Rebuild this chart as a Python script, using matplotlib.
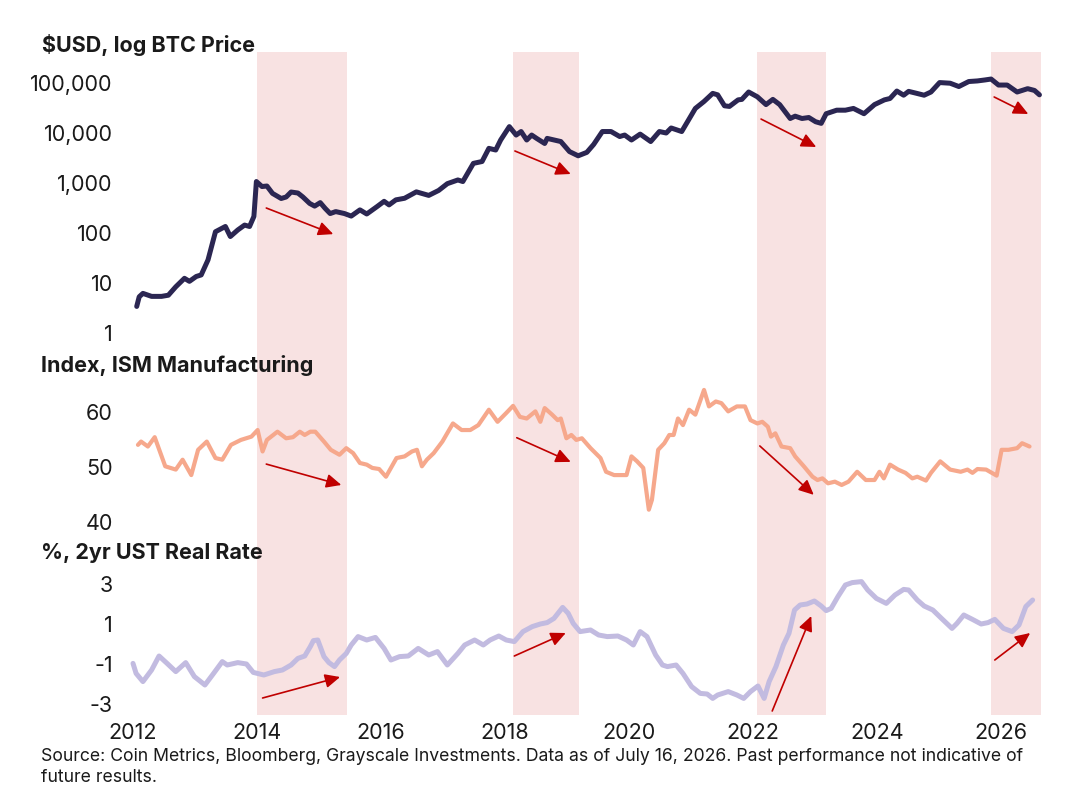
import matplotlib
matplotlib.use("Agg")
import matplotlib.pyplot as plt
from matplotlib.ticker import FixedLocator, FuncFormatter, NullLocator

plt.rcParams["font.family"] = ["Inter", "DejaVu Sans"]
plt.rcParams["axes.unicode_minus"] = False

# --- data ------------------------------------------------------------------
btc_year = [2012.06, 2012.10, 2012.16, 2012.30, 2012.46, 2012.57, 2012.69, 2012.83, 2012.91,
            2013.02, 2013.10, 2013.21, 2013.33, 2013.49, 2013.57, 2013.69, 2013.80, 2013.88,
            2013.95, 2013.99, 2014.08, 2014.16, 2014.25, 2014.39, 2014.47, 2014.55, 2014.66,
            2014.74, 2014.85, 2014.93, 2015.02, 2015.10, 2015.18, 2015.27, 2015.41, 2015.52,
            2015.66, 2015.77, 2015.94, 2016.05, 2016.13, 2016.24, 2016.38, 2016.57, 2016.77,
            2016.93, 2017.07, 2017.24, 2017.32, 2017.49, 2017.63, 2017.74, 2017.85, 2017.93,
            2018.07, 2018.18, 2018.26, 2018.35, 2018.43, 2018.51, 2018.64, 2018.68, 2018.90,
            2019.04, 2019.18, 2019.32, 2019.43, 2019.57, 2019.71, 2019.85, 2019.93, 2020.04,
            2020.18, 2020.35, 2020.49, 2020.60, 2020.68, 2020.85, 2020.96, 2021.07, 2021.21,
            2021.35, 2021.43, 2021.54, 2021.62, 2021.76, 2021.82, 2021.93, 2022.07, 2022.21,
            2022.32, 2022.43, 2022.60, 2022.68, 2022.79, 2022.90, 2023.01, 2023.10, 2023.18,
            2023.35, 2023.49, 2023.62, 2023.79, 2023.96, 2024.12, 2024.21, 2024.32, 2024.43,
            2024.51, 2024.62, 2024.76, 2024.87, 2025.01, 2025.18, 2025.32, 2025.48, 2025.62,
            2025.74, 2025.84, 2025.96, 2026.10, 2026.26, 2026.43, 2026.54, 2026.62]
btc_price = [3.4, 5.3, 6.2, 5.4, 5.4, 5.7, 8.4, 12.4, 10.8,
             13.5, 14.5, 29, 106, 135, 85, 115, 144, 135,
             214, 1070, 850, 870, 620, 490, 525, 660, 630,
             525, 390, 345, 405, 310, 245, 268, 245, 218,
             290, 240, 340, 430, 365, 460, 495, 665, 565,
             710, 970, 1150, 1070, 2470, 2690, 4930, 4570, 7240,
             13400, 9100, 10700, 7240, 9100, 7800, 6170, 7800, 6750,
             4250, 3500, 4100, 5900, 10700, 10700, 8500, 9100, 7240,
             9500, 6750, 10700, 10000, 12600, 10700, 18200, 31000, 42700,
             62000, 58000, 35000, 34000, 46000, 47000, 66000, 53000, 37000,
             47000, 37000, 19500, 21700, 19500, 20400, 16800, 15600, 24300,
             28600, 28600, 31000, 24300, 37000, 46000, 49000, 69000, 57000,
             68000, 63000, 57000, 66000, 102000, 99000, 85000, 107000, 110000,
             115000, 120000, 91000, 91000, 66000, 77000, 71000, 58000]

ism_year = [2012.08, 2012.13, 2012.24, 2012.35, 2012.52, 2012.69, 2012.80, 2012.94, 2013.05,
            2013.19, 2013.33, 2013.44, 2013.58, 2013.74, 2013.91, 2014.01, 2014.09, 2014.16,
            2014.33, 2014.47, 2014.58, 2014.69, 2014.77, 2014.86, 2014.94, 2015.08, 2015.19,
            2015.33, 2015.44, 2015.55, 2015.66, 2015.77, 2015.86, 2015.97, 2016.08, 2016.25,
            2016.38, 2016.50, 2016.58, 2016.66, 2016.74, 2016.85, 2016.99, 2017.16, 2017.30,
            2017.44, 2017.57, 2017.74, 2017.88, 2018.02, 2018.13, 2018.24, 2018.35, 2018.49,
            2018.57, 2018.64, 2018.76, 2018.85, 2018.90, 2018.99, 2019.07, 2019.15, 2019.24,
            2019.38, 2019.54, 2019.63, 2019.76, 2019.96, 2020.04, 2020.13, 2020.23, 2020.32,
            2020.37, 2020.47, 2020.57, 2020.65, 2020.72, 2020.79, 2020.87, 2020.97, 2021.07,
            2021.21, 2021.29, 2021.40, 2021.49, 2021.60, 2021.74, 2021.87, 2021.96, 2022.07,
            2022.15, 2022.24, 2022.29, 2022.36, 2022.46, 2022.60, 2022.68, 2022.82, 2022.96,
            2023.04, 2023.12, 2023.21, 2023.32, 2023.43, 2023.54, 2023.68, 2023.82, 2023.96,
            2024.04, 2024.11, 2024.21, 2024.34, 2024.46, 2024.57, 2024.65, 2024.79, 2024.87,
            2025.02, 2025.18, 2025.35, 2025.46, 2025.54, 2025.62, 2025.76, 2025.93, 2026.01,
            2026.12, 2026.26, 2026.34, 2026.46]
ism_value = [54.0, 54.6, 53.7, 55.4, 50.1, 49.5, 51.3, 48.5, 53.1,
             54.6, 51.6, 51.3, 54.0, 54.9, 55.5, 56.7, 52.8, 54.9,
             56.4, 55.2, 55.4, 56.4, 55.8, 56.4, 56.4, 54.6, 53.1,
             52.2, 53.4, 52.5, 50.7, 50.4, 49.8, 49.6, 48.2, 51.6,
             51.9, 52.8, 53.1, 50.1, 51.3, 52.5, 54.6, 57.9, 56.7,
             56.7, 57.6, 60.4, 58.2, 59.8, 61.1, 59.1, 58.8, 60.1,
             58.2, 60.7, 59.5, 58.5, 58.8, 55.2, 55.8, 54.9, 55.2,
             53.4, 51.6, 49.1, 48.5, 48.5, 51.9, 51.0, 49.8, 42.2,
             44.0, 53.1, 54.3, 55.8, 55.8, 58.8, 57.6, 60.4, 59.5,
             64.0, 61.0, 61.9, 61.6, 60.1, 61.0, 61.0, 58.5, 57.9,
             58.2, 57.3, 55.5, 56.1, 53.7, 53.4, 51.9, 50.1, 48.2,
             47.6, 47.9, 47.0, 47.3, 46.7, 47.3, 49.1, 47.6, 47.6,
             49.1, 47.9, 50.4, 49.5, 48.9, 47.9, 48.2, 47.5, 48.9,
             51.0, 49.5, 49.1, 49.5, 48.9, 49.6, 49.5, 48.4, 53.1,
             53.1, 53.4, 54.3, 53.7]

rate_year = [2012.00, 2012.05, 2012.16, 2012.30, 2012.42, 2012.55, 2012.69, 2012.85, 2012.99,
             2013.16, 2013.30, 2013.44, 2013.52, 2013.69, 2013.83, 2013.94, 2014.11, 2014.28,
             2014.41, 2014.55, 2014.66, 2014.77, 2014.86, 2014.91, 2014.98, 2015.08, 2015.16,
             2015.25, 2015.33, 2015.44, 2015.52, 2015.63, 2015.77, 2015.91, 2016.05, 2016.16,
             2016.30, 2016.44, 2016.60, 2016.77, 2016.91, 2017.07, 2017.24, 2017.35, 2017.51,
             2017.65, 2017.76, 2017.90, 2018.02, 2018.15, 2018.29, 2018.44, 2018.57, 2018.68,
             2018.79, 2018.93, 2019.02, 2019.10, 2019.21, 2019.38, 2019.51, 2019.65, 2019.82,
             2019.96, 2020.07, 2020.18, 2020.29, 2020.43, 2020.54, 2020.62, 2020.76, 2020.87,
             2021.01, 2021.15, 2021.26, 2021.35, 2021.43, 2021.60, 2021.74, 2021.85, 2021.96,
             2022.08, 2022.18, 2022.26, 2022.37, 2022.49, 2022.58, 2022.67, 2022.76, 2022.87,
             2022.99, 2023.10, 2023.18, 2023.26, 2023.37, 2023.49, 2023.60, 2023.75, 2023.85,
             2023.99, 2024.15, 2024.29, 2024.43, 2024.51, 2024.65, 2024.76, 2024.90, 2025.04,
             2025.21, 2025.29, 2025.40, 2025.54, 2025.68, 2025.79, 2025.90, 2026.04, 2026.18,
             2026.29, 2026.40, 2026.51]
rate_value = [-0.97, -1.47, -1.88, -1.30, -0.60, -0.97, -1.38, -0.93, -1.63,
              -2.05, -1.47, -0.88, -1.05, -0.93, -1.00, -1.42, -1.55, -1.38,
              -1.30, -1.05, -0.72, -0.60, -0.13, 0.17, 0.20, -0.63, -0.93,
              -1.13, -0.80, -0.47, -0.05, 0.37, 0.20, 0.33, -0.22, -0.80,
              -0.63, -0.60, -0.22, -0.55, -0.38, -1.05, -0.47, -0.05, 0.20,
              -0.05, 0.20, 0.40, 0.20, 0.12, 0.62, 0.87, 1.00, 1.07,
              1.28, 1.83, 1.53, 1.03, 0.62, 0.70, 0.45, 0.37, 0.40,
              0.20, -0.05, 0.62, 0.37, -0.55, -1.05, -1.13, -1.05, -1.47,
              -2.13, -2.47, -2.50, -2.72, -2.55, -2.38, -2.55, -2.72, -2.38,
              -2.10, -2.72, -1.88, -1.13, -0.05, 0.53, 1.70, 1.95, 2.00,
              2.15, 1.90, 1.67, 1.78, 2.37, 2.95, 3.07, 3.12, 2.70,
              2.28, 2.03, 2.45, 2.73, 2.70, 2.20, 1.90, 1.70, 1.28,
              0.78, 1.03, 1.45, 1.23, 1.00, 1.07, 1.23, 0.78, 0.62,
              0.95, 1.87, 2.20]

# drawdown periods (start, end) in years
shade_start = [2014.0, 2018.13, 2022.06, 2025.84]
shade_end = [2015.45, 2019.2, 2023.18, 2026.65]

# arrows: (x0, y0, x1, y1) tail -> head
btc_arrows = [(2014.15, 316, 2015.23, 95), (2018.16, 4365, 2019.06, 1514),
              (2022.13, 19000, 2023.02, 5250), (2025.89, 52500, 2026.44, 24000)]
ism_arrows = [(2014.15, 50.5, 2015.36, 46.7), (2018.19, 55.3, 2019.06, 50.9),
              (2022.11, 53.8, 2022.98, 44.9)]
rate_arrows = [(2014.09, -2.7, 2015.34, -1.65), (2018.15, -0.6, 2018.98, 0.55),
               (2022.31, -3.35, 2022.94, 1.4), (2025.90, -0.8, 2026.47, 0.55)]

btc_ticks = [1, 10, 100, 1000, 10000, 100000]
ism_ticks = [40, 50, 60]
rate_ticks = [-3, -1, 1, 3]
year_ticks = [2012, 2014, 2016, 2018, 2020, 2022, 2024, 2026]

# --- layout ---------------------------------------------------------------
W, H = 1069, 796
XMIN, XMAX = 2011.9, 2026.7
LEFT, WIDTH = 126.8, 917.6

BTC_C = "#2b2652"
ISM_C = "#f6a88c"
RATE_C = "#c2bbe0"
SHADE_C = "#f8e2e2"
ARROW_C = "#c00000"
TXT_C = "#1a1a1a"


def add_ax(fig, top_px, bottom_px):
    return fig.add_axes([LEFT / W, 1 - bottom_px / H, WIDTH / W, (bottom_px - top_px) / H])


def style(ax):
    for s in ax.spines.values():
        s.set_visible(False)
    ax.set_xlim(XMIN, XMAX)
    ax.patch.set_alpha(0)
    ax.tick_params(length=0, labelsize=15.5, colors=TXT_C, pad=10)


def arrows(ax, arr):
    for x0, y0, x1, y1 in arr:
        ax.annotate("", xy=(x1, y1), xytext=(x0, y0),
                    arrowprops=dict(arrowstyle="-|>,head_length=0.9,head_width=0.42",
                                    color=ARROW_C, lw=1.2, mutation_scale=10,
                                    shrinkA=0, shrinkB=0))


fig = plt.figure(figsize=(W / 100, H / 100), dpi=100)

# background axes carrying the shaded bands through all three panels
bg = add_ax(fig, 52, 715)
bg.set_xlim(XMIN, XMAX)
bg.set_ylim(0, 1)
bg.axis("off")
for s0, s1 in zip(shade_start, shade_end):
    bg.axvspan(s0, s1, color=SHADE_C, lw=0)

# BTC price
ax1 = add_ax(fig, 60, 345)
style(ax1)
ax1.set_yscale("log")
ax1.set_ylim(10 ** -0.24, 10 ** 5.46)
ax1.plot(btc_year, btc_price, color=BTC_C, lw=3.6, solid_joinstyle="round", solid_capstyle="round")
ax1.yaxis.set_major_locator(FixedLocator(btc_ticks))
ax1.yaxis.set_minor_locator(NullLocator())
ax1.yaxis.set_major_formatter(FuncFormatter(lambda v, p: f"{v:,.0f}"))
ax1.set_xticks([])
arrows(ax1, btc_arrows)

# ISM
ax2 = add_ax(fig, 385, 530)
style(ax2)
ax2.set_ylim(38.5, 64.9)
ax2.plot(ism_year, ism_value, color=ISM_C, lw=3.0, solid_joinstyle="round", solid_capstyle="round")
ax2.set_yticks(ism_ticks)
ax2.set_xticks([])
arrows(ax2, ism_arrows)

# real rate
ax3 = add_ax(fig, 575, 715)
style(ax3)
ax3.set_ylim(-3.55, 3.45)
ax3.plot(rate_year, rate_value, color=RATE_C, lw=3.6, solid_joinstyle="round", solid_capstyle="round")
ax3.set_yticks(rate_ticks)
ax3.set_xticks(year_ticks)
ax3.set_xticklabels([str(y) for y in year_ticks])
ax3.tick_params(axis="x", pad=6)
arrows(ax3, rate_arrows)

title_kw = dict(fontsize=15.5, fontweight="bold", color=TXT_C, ha="left", va="center")
fig.text(42 / W, 1 - 45 / H, "$USD, log BTC Price", **title_kw)
fig.text(41 / W, 1 - 365 / H, "Index, ISM Manufacturing", **title_kw)
fig.text(41 / W, 1 - 553 / H, "%, 2yr UST Real Rate", **title_kw)

fig.text(41 / W, 1 - 748 / H,
         "Source: Coin Metrics, Bloomberg, Grayscale Investments. Data as of July 16, 2026. "
         "Past performance not indicative of\nfuture results.",
         fontsize=12.7, color=TXT_C, ha="left", va="top", linespacing=1.3)

fig.savefig("out.png", dpi=100)
